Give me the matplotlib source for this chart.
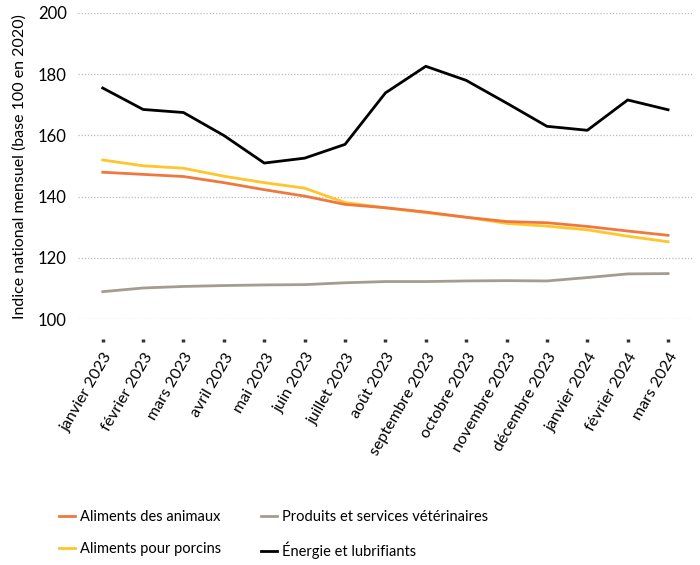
import numpy as np
import matplotlib
matplotlib.use('Agg')
import matplotlib.pyplot as plt

plt.rcParams['font.family'] = ['Lato', 'DejaVu Sans']

mois = ['janvier 2023', 'février 2023', 'mars 2023', 'avril 2023', 'mai 2023',
        'juin 2023', 'juillet 2023', 'août 2023', 'septembre 2023', 'octobre 2023',
        'novembre 2023', 'décembre 2023', 'janvier 2024', 'février 2024', 'mars 2024']

aliments_animaux = [148.0, 147.3, 146.6, 144.6, 142.3, 140.2, 137.5, 136.4, 135.0,
                    133.3, 131.9, 131.5, 130.3, 128.8, 127.4]
aliments_porcins = [152.0, 150.1, 149.3, 146.7, 144.6, 142.8, 138.1, 136.4, 134.8,
                    133.3, 131.3, 130.4, 129.2, 127.1, 125.3]
veterinaires = [109.0, 110.2, 110.7, 111.0, 111.2, 111.3, 111.9, 112.3, 112.3,
                112.5, 112.6, 112.5, 113.6, 114.8, 114.9]
energie = [175.5, 168.5, 167.5, 160.0, 151.0, 152.6, 157.1, 173.9, 182.6,
           178.0, 170.6, 163.0, 161.7, 171.6, 168.4]

x = np.arange(len(mois))

fig = plt.figure(figsize=(7, 5.65), dpi=100)
ax = fig.add_axes([0.111, 0.435, 0.878, 0.542])

lw = 2.0
l1, = ax.plot(x, aliments_animaux, color='#F0783F', lw=lw, label='Aliments des animaux')
l3, = ax.plot(x, veterinaires, color='#A39C93', lw=lw, label='Produits et services vétérinaires')
l2, = ax.plot(x, aliments_porcins, color='#FFC52B', lw=lw, label='Aliments pour porcins')
l4, = ax.plot(x, energie, color='black', lw=lw, label='Énergie et lubrifiants')
l2.set_zorder(l1.get_zorder() - 0.1)

ax.set_ylim(100, 200)
ax.set_xlim(-0.62, 14.6)
ax.set_yticks(np.arange(100, 201, 20))
ax.grid(axis='y', linestyle=(0, (1, 1.5)), color='#BBBBBB', lw=0.9)
ax.set_axisbelow(True)
for s in ax.spines.values():
    s.set_visible(False)
ax.spines['bottom'].set_position(('outward', 14))

ax.set_xticks(x)
ax.set_xticklabels(mois, rotation=60, ha='right', rotation_mode='anchor', fontsize=11.5)
ax.tick_params(axis='x', length=2.5, width=2.5, color='#333333', pad=6)
ax.tick_params(axis='y', length=0, labelsize=12, pad=8)
ax.set_ylabel('Indice national mensuel (base 100 en 2020)', fontsize=11.5, labelpad=8)

fig.legend(handles=[l1, l2, l3, l4], loc='upper left', bbox_to_anchor=(0.066, 0.12),
           ncol=2, frameon=False, fontsize=10.5, handlelength=1.1, handletextpad=0.35,
           columnspacing=2.7, labelspacing=1.2)

fig.savefig('out.png', dpi=100)
